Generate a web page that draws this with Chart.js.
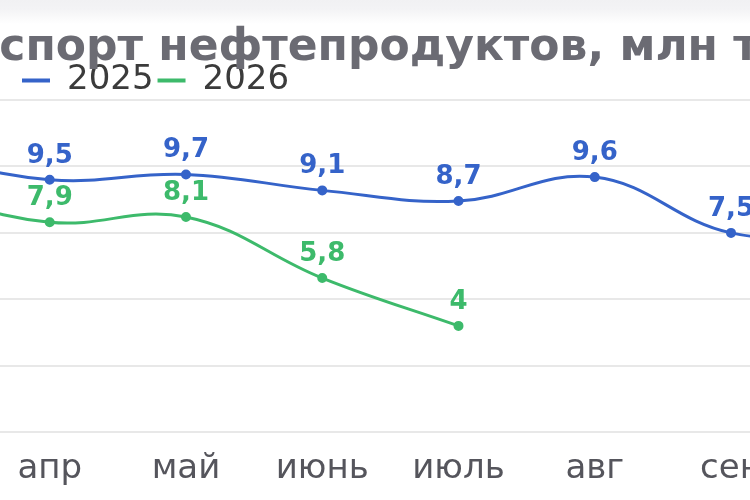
<!DOCTYPE html>
<html>
<head>
<meta charset="utf-8">
<script src="https://cdn.jsdelivr.net/npm/chart.js@4/dist/chart.umd.min.js"></script>
<style>
  html, body { margin: 0; padding: 0; background: #fff; }
  #frame { position: relative; width: 750px; height: 500px; overflow: hidden;
           background: linear-gradient(#f1f1f3 0, #f3f3f5 9px, #fff 24px); }
  #holder { position: absolute; left: -100px; top: 0; width: 896px; height: 500px; }
</style>
</head>
<body>
<div id="frame"><div id="holder"><canvas id="chart-export"></canvas></div></div>
<script>
// months of the visible window (мар and окт only feed the line ends)
var months = ['мар', 'апр', 'май', 'июнь', 'июль', 'авг', 'сен', 'окт'];
var export2025 = [10.5, 9.5, 9.7, 9.1, 8.7, 9.6, 7.5, 7.4];
var export2026 = [9.1, 7.9, 8.1, 5.8, 4];
var yTicks = [0, 2.5, 5, 7.5, 10, 12.5];

var BLUE = '#3563c9';
var GREEN = '#3dba6b';

function toPoints(arr) {
  return arr.map(function (v, i) { return { x: i, y: v }; });
}

// value labels above every point
var valueLabels = {
  id: 'valueLabels',
  afterDatasetsDraw: function (chart) {
    var ctx = chart.ctx;
    ctx.save();
    ctx.font = 'bold 26px "DejaVu Sans"';
    ctx.textAlign = 'center';
    ctx.textBaseline = 'bottom';
    chart.data.datasets.forEach(function (ds, di) {
      var meta = chart.getDatasetMeta(di);
      meta.data.forEach(function (el, i) {
        ctx.fillStyle = ds.borderColor;
        ctx.fillText(String(ds.data[i].y).replace('.', ','), el.x, el.y - 11);
      });
    });
    ctx.restore();
  }
};

function initChart() {
  var ctx = document.getElementById('chart-export').getContext('2d');
  new Chart(ctx, {
    type: 'line',
    data: {
      datasets: [{
        label: '2025',
        data: toPoints(export2025),
        borderColor: BLUE,
        backgroundColor: BLUE,
        borderWidth: 3,
        pointRadius: 3.5,
        tension: 0.4,
        clip: false
      }, {
        label: '2026',
        data: toPoints(export2026),
        borderColor: GREEN,
        backgroundColor: GREEN,
        borderWidth: 3,
        pointRadius: 3.5,
        tension: 0.4,
        clip: false
      }]
    },
    options: {
      responsive: true,
      maintainAspectRatio: false,
      animation: false,
      layout: { padding: { top: 26.5, bottom: 1 } },
      plugins: {
        tooltip: { enabled: false },
        title: {
          display: true,
          text: 'Экспорт нефтепродуктов, млн т',
          color: '#6b6b73',
          font: { family: '"DejaVu Sans"', size: 44, weight: 'bold', lineHeight: 1 },
          padding: { top: 0, bottom: -11 }
        },
        legend: {
          position: 'top',
          align: 'start',
          fullSize: false,
          maxHeight: 40,
          labels: {
            usePointStyle: true,
            pointStyle: 'line',
            pointStyleWidth: 28,
            padding: 4,
            color: '#3b3b3b',
            font: { family: '"DejaVu Sans"', size: 34 },
            generateLabels: function (chart) {
              var items = Chart.defaults.plugins.legend.labels.generateLabels(chart);
              items.forEach(function (it) { it.lineWidth = 4; });
              return items;
            }
          }
        }
      },
      scales: {
        x: {
          type: 'linear',
          min: 0.7673,
          max: 6.4255,
          grid: { display: false },
          border: { display: false },
          afterBuildTicks: function (axis) {
            axis.ticks = months.map(function (m, i) { return { value: i }; })
              .filter(function (t) { return t.value >= 1 && t.value <= 6; });
          },
          ticks: {
            autoSkip: false,
            maxRotation: 0,
            padding: 9,
            color: '#55555c',
            font: { family: '"DejaVu Sans"', size: 34 },
            callback: function (v) { return months[v]; }
          }
        },
        y: {
          min: 0,
          max: 12.52,
          afterBuildTicks: function (axis) {
            axis.ticks = yTicks.map(function (v) { return { value: v }; });
          },
          border: { display: false },
          grid: { color: '#e8e8e8', lineWidth: 2, tickLength: 118 },
          ticks: { display: false }
        }
      }
    },
    plugins: [valueLabels]
  });
}

initChart();
</script>
</body>
</html>
